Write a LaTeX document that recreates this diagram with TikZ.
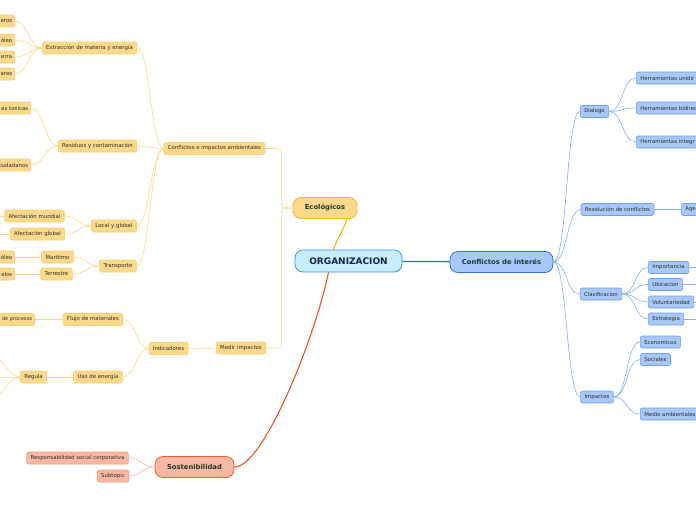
\documentclass[tikz,border=0pt]{standalone}
\usepackage{fontspec}
\setmainfont{DejaVu Sans}
\usetikzlibrary{positioning}
\definecolor{yfill}{RGB}{253,217,139}
\definecolor{yborder}{RGB}{251,206,112}
\definecolor{yline}{RGB}{252,214,132}
\definecolor{bfill}{RGB}{167,200,248}
\definecolor{bborder}{RGB}{110,160,238}
\definecolor{bline}{RGB}{130,176,240}
\definecolor{pfill}{RGB}{249,184,164}
\definecolor{pborder}{RGB}{244,155,128}
\definecolor{pline}{RGB}{248,180,160}
\definecolor{orgfill}{RGB}{200,237,252}
\definecolor{orgborder}{RGB}{59,149,219}
\definecolor{orgtext}{RGB}{22,36,74}
\definecolor{maintext}{RGB}{28,60,46}
\definecolor{smalltext}{RGB}{45,45,45}
\definecolor{ecoborder}{RGB}{248,179,42}
\definecolor{confborder}{RGB}{43,116,218}
\definecolor{sostborder}{RGB}{238,91,47}
\definecolor{sostline}{RGB}{239,82,38}
\definecolor{ecoline}{RGB}{249,176,28}
\definecolor{confline}{RGB}{30,111,213}

\begin{document}
\begin{tikzpicture}[
    x=1pt, y=-1pt,
    every node/.style={draw, align=center, rounded corners=2pt, inner xsep=4pt, inner ysep=0pt, minimum height=12pt, text=smalltext, font=\fontsize{5.4}{6.4}\selectfont, line width=0.6pt},
    yellow_box/.style={fill=yfill, draw=yborder},
    blue_box/.style={fill=bfill, draw=bborder},
    pink_box/.style={fill=pfill, draw=pborder},
    main_box/.style={rounded corners=8pt, minimum height=21pt, line width=0.8pt, text=maintext, font=\fontsize{6.8}{8}\selectfont\bfseries},
    cut_left/.style={anchor=east, text width=34pt, align=right, inner xsep=2.5pt},
    cut_right/.style={anchor=west, text width=70pt, align=left},
    yellow_line/.style={draw=yline, line width=0.6pt},
    blue_line/.style={draw=bline, line width=0.6pt},
    pink_line/.style={draw=pline, line width=0.6pt}
]
\useasboundingbox (0,0) rectangle (696,520);
\clip (0,0) rectangle (696,520);

\node (organizacion) [main_box, fill=orgfill, draw=orgborder, text=orgtext, minimum width=107pt, minimum height=22pt, font=\fontsize{9}{10}\selectfont\bfseries] at (348.5,261) {ORGANIZACION};
\node (conflictos_interes) [main_box, fill=bfill, draw=confborder, minimum width=103pt] at (501.5,262) {Conflictos de interés};
\node (ecologicos) [main_box, fill=yfill, draw=ecoborder, minimum width=64pt] at (325,208) {Ecológicos};
\node (sostenibilidad) [main_box, fill=pfill, draw=sostborder, minimum width=79pt] at (194.5,467) {Sostenibilidad};

\node (conflictos_impactos) [yellow_box] at (214.5,148.5) {Conflictos e impactos ambientales};
\node (medir_impactos) [yellow_box] at (241,348) {Medir impactos};
\node (extraccion) [yellow_box] at (89.5,48) {Extracción de materia y energía};
\node (extraccion_a) [yellow_box, cut_left] at (15,21) {eros};
\node (extraccion_b) [yellow_box, cut_left] at (15,40) {óleo};
\node (extraccion_c) [yellow_box, cut_left] at (15,57) {erra};
\node (extraccion_d) [yellow_box, cut_left] at (15,74) {ares};
\node (residuos) [yellow_box] at (97.5,146) {Residuos y contaminación};
\node (residuos_a) [yellow_box, cut_left] at (31,108) {as toxicas};
\node (residuos_b) [yellow_box, cut_left] at (31,165) {iudadanos};
\node (local_global) [yellow_box] at (114,226) {Local y global};
\node (afectacion_mundial) [yellow_box] at (34.5,216) {Afectación mundial};
\node (afectacion_global) [yellow_box] at (37.5,234) {Afectación global};
\node (transporte) [yellow_box] at (118,266) {Transporte};
\node (maritimo) [yellow_box] at (57.5,257) {Maritimo};
\node (terrestre) [yellow_box] at (56.5,274) {Terrestre};
\node (maritimo_a) [yellow_box, cut_left] at (15,257) {óleo};
\node (terrestre_a) [yellow_box, cut_left] at (15,274) {elos};
\node (indicadores) [yellow_box] at (168.5,348.5) {Indicadores};
\node (flujo_materiales) [yellow_box] at (93,319.5) {Flujo de materiales};
\node (flujo_a) [yellow_box, cut_left, font=\fontsize{5}{6}\selectfont] at (35,319.5) {de procesos};
\node (uso_energia) [yellow_box] at (98,377) {Uso de energía};
\node (regula) [yellow_box] at (33.5,377) {Regula};

\node (dialogo) [blue_box] at (594.5,111.5) {Dialogo};
\node (herr_unidir) [blue_box, cut_right] at (636,78) {Herramientas unidir};
\node (herr_bidir) [blue_box, cut_right] at (636,108) {Herramientas bidirec};
\node (herr_integr) [blue_box, cut_right] at (636,142) {Herramientas integr};
\node (resolucion) [blue_box] at (617.5,209.5) {Resolución de conflictos};
\node (resolucion_a) [blue_box, cut_right] at (681,209.5) {Age};
\node (clasificacion) [blue_box] at (601,294) {Clasificacion};
\node (importancia) [blue_box, anchor=west] at (648,267.5) {Importancia};
\node (ubicacion) [blue_box, anchor=west] at (648,284.5) {Ubicacion};
\node (voluntariedad) [blue_box, anchor=west] at (648,302) {Voluntariedad};
\node (estrategia) [blue_box, anchor=west] at (648,319) {Estrategia};
\node (impactos) [blue_box] at (597,397) {Impactos};
\node (economicos) [blue_box, anchor=west] at (640,342) {Economicos};
\node (sociales) [blue_box, anchor=west] at (640,359.5) {Sociales};
\node (medio_ambientales) [blue_box, anchor=west] at (640,414) {Medio ambientales};

\node (responsabilidad) [pink_box] at (77.5,458) {Responsabilidad social corporativa};
\node (subtopic) [pink_box] at (113,476) {Subtopic};

\coordinate (mundial_end) at (-8,216);
\coordinate (global_end) at (-8,234);
\coordinate (regula_up) at (-10,355);
\coordinate (regula_mid) at (-10,377);
\coordinate (regula_down) at (-10,399);
\coordinate (importancia_end) at (700,267.5);
\coordinate (ubicacion_end) at (700,284.5);
\coordinate (voluntariedad_end) at (700,302);
\coordinate (estrategia_end) at (700,319);

\draw[confline, line width=1.2pt] (organizacion) -- (conflictos_interes);
\draw[ecoline, line width=1.1pt] ([xshift=-15pt]organizacion.north) .. controls +(4,-12) and +(-4,12) .. ([xshift=22pt]ecologicos.south);
\draw[sostline, line width=1.1pt] ([xshift=-20pt]organizacion.south) .. controls +(-12,60) and +(30,0) .. (sostenibilidad.east);

\draw[yellow_line, rounded corners=4pt] (ecologicos.west) -- ++(-11,0) |- (conflictos_impactos.east);
\draw[yellow_line, rounded corners=4pt] (ecologicos.west) -- ++(-11,0) |- (medir_impactos.east);
\foreach \child in {extraccion, residuos, local_global, transporte}
  \draw[yellow_line] (conflictos_impactos.west) .. controls +(-13,0) and +(13,0) .. (\child.east);
\foreach \child in {extraccion_a, extraccion_b, extraccion_c, extraccion_d}
  \draw[yellow_line] (extraccion.west) .. controls +(-13,0) and +(13,0) .. (\child.east);
\foreach \child in {residuos_a, residuos_b}
  \draw[yellow_line] (residuos.west) .. controls +(-13,0) and +(13,0) .. (\child.east);
\foreach \child in {afectacion_mundial, afectacion_global}
  \draw[yellow_line] (local_global.west) .. controls +(-13,0) and +(13,0) .. (\child.east);
\foreach \child in {maritimo, terrestre}
  \draw[yellow_line] (transporte.west) .. controls +(-13,0) and +(13,0) .. (\child.east);
\draw[yellow_line] (afectacion_mundial.west) -- (mundial_end);
\draw[yellow_line] (afectacion_global.west) -- (global_end);
\draw[yellow_line] (maritimo) -- (maritimo_a);
\draw[yellow_line] (terrestre) -- (terrestre_a);
\draw[yellow_line] (medir_impactos) -- (indicadores);
\foreach \child in {flujo_materiales, uso_energia}
  \draw[yellow_line] (indicadores.west) .. controls +(-13,0) and +(13,0) .. (\child.east);
\draw[yellow_line] (flujo_materiales) -- (flujo_a);
\draw[yellow_line] (uso_energia) -- (regula);
\foreach \child in {regula_up, regula_mid, regula_down}
  \draw[yellow_line] (regula.west) .. controls +(-12,0) and +(12,0) .. (\child);

\foreach \child in {dialogo, resolucion, clasificacion, impactos}
  \draw[blue_line] (conflictos_interes.east) .. controls +(14,0) and +(-14,0) .. (\child.west);
\foreach \child in {herr_unidir, herr_bidir, herr_integr}
  \draw[blue_line] (dialogo.east) .. controls +(14,0) and +(-14,0) .. (\child.west);
\draw[blue_line] (resolucion) -- (resolucion_a);
\foreach \child in {importancia, ubicacion, voluntariedad, estrategia}
  \draw[blue_line] (clasificacion.east) .. controls +(14,0) and +(-14,0) .. (\child.west);
\foreach \child in {economicos, sociales, medio_ambientales}
  \draw[blue_line] (impactos.east) .. controls +(14,0) and +(-14,0) .. (\child.west);
\draw[blue_line] (importancia.east) -- (importancia_end);
\draw[blue_line] (ubicacion.east) -- (ubicacion_end);
\draw[blue_line] (voluntariedad.east) -- (voluntariedad_end);
\draw[blue_line] (estrategia.east) -- (estrategia_end);

\foreach \child in {responsabilidad, subtopic}
  \draw[pink_line] (sostenibilidad.west) .. controls +(-13,0) and +(13,0) .. (\child.east);
\end{tikzpicture}
\end{document}
